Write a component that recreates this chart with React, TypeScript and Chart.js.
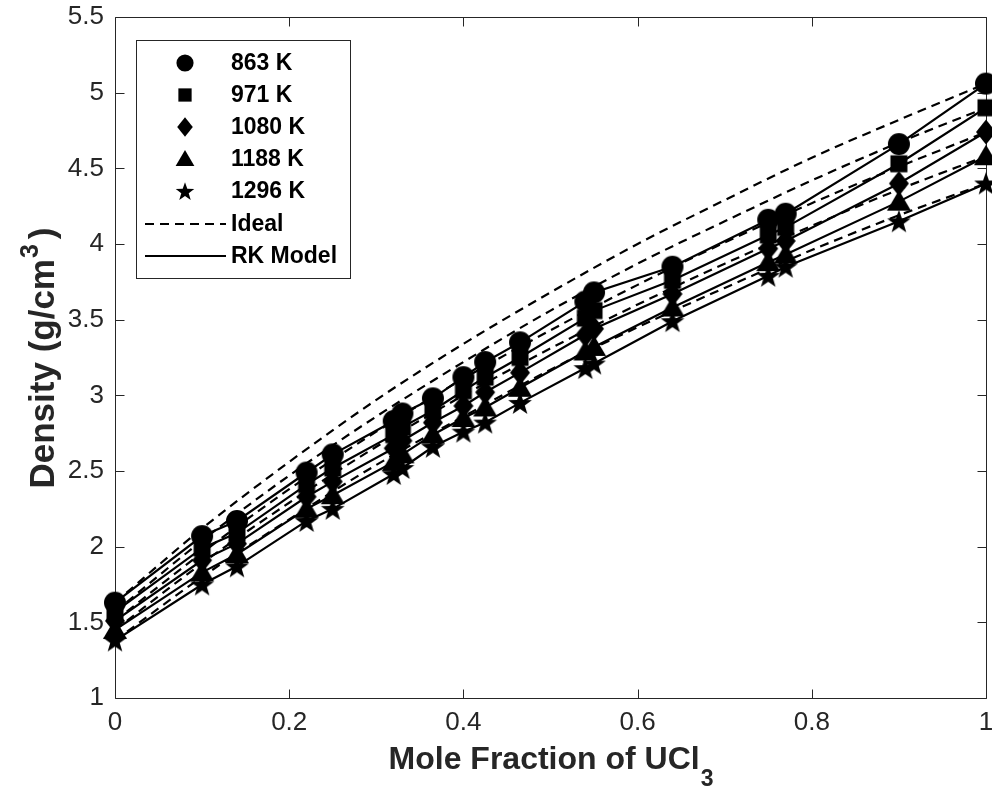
import React, { useEffect, useRef } from 'react';
import { Chart, registerables } from 'chart.js';

Chart.register(...registerables);

// ---------- data ----------
const moleFraction = [0, 0.1, 0.14, 0.22, 0.25, 0.32, 0.33, 0.365, 0.4, 0.425, 0.465, 0.54, 0.55, 0.64, 0.75, 0.77, 0.9, 1.0];

const density863 = [1.63, 2.07, 2.17, 2.49, 2.61, 2.83, 2.88, 2.98, 3.12, 3.22, 3.35, 3.62, 3.68, 3.85, 4.16, 4.2, 4.66, 5.06];
const density971 = [1.57, 1.99, 2.09, 2.41, 2.52, 2.74, 2.79, 2.9, 3.03, 3.12, 3.25, 3.51, 3.56, 3.76, 4.06, 4.11, 4.53, 4.9];
const density1080 = [1.51, 1.91, 2.02, 2.33, 2.43, 2.65, 2.7, 2.82, 2.93, 3.02, 3.15, 3.4, 3.44, 3.67, 3.97, 4.02, 4.4, 4.74];
const density1188 = [1.45, 1.83, 1.95, 2.25, 2.34, 2.56, 2.61, 2.74, 2.85, 2.92, 3.05, 3.29, 3.32, 3.58, 3.88, 3.93, 4.28, 4.58];
const density1296 = [1.38, 1.75, 1.87, 2.17, 2.25, 2.48, 2.52, 2.66, 2.76, 2.82, 2.95, 3.18, 3.21, 3.49, 3.79, 3.85, 4.15, 4.4];

const idealX = [0, 0.1, 0.2, 0.3, 0.4, 0.5, 0.6, 0.7, 0.8, 0.9, 1.0];
const ideal863 = [1.63, 2.12, 2.56, 2.97, 3.34, 3.68, 4.0, 4.29, 4.57, 4.82, 5.06];
const ideal971 = [1.57, 2.04, 2.47, 2.86, 3.22, 3.56, 3.87, 4.15, 4.42, 4.67, 4.9];
const ideal1080 = [1.51, 1.96, 2.38, 2.76, 3.11, 3.43, 3.73, 4.01, 4.27, 4.51, 4.74];
const ideal1188 = [1.45, 1.89, 2.29, 2.66, 3.0, 3.31, 3.6, 3.87, 4.12, 4.36, 4.58];
const ideal1296 = [1.38, 1.8, 2.18, 2.54, 2.86, 3.17, 3.45, 3.71, 3.96, 4.19, 4.4];

const seriesLabels = ['863 K', '971 K', '1080 K', '1188 K', '1296 K'];
const seriesShapes = ['circle', 'square', 'diamond', 'triangle', 'star'];
const idealLabel = 'Ideal';
const modelLabel = 'RK Model';

const xTickValues = [0, 0.2, 0.4, 0.6, 0.8, 1];
const xTickLabels = ['0', '0.2', '0.4', '0.6', '0.8', '1'];
const yTickValues = [1, 1.5, 2, 2.5, 3, 3.5, 4, 4.5, 5, 5.5];
const yTickLabels = ['1', '1.5', '2', '2.5', '3', '3.5', '4', '4.5', '5', '5.5'];

const xTitleMain = 'Mole Fraction of UCl';
const xTitleSub = '3';
const yTitleMain = 'Density (g/cm';
const yTitleSup = '3';
const yTitleEnd = ')';

// ---------- styling ----------
const FONT = '"Liberation Sans", Arial, Helvetica, sans-serif';
const AXIS_COLOR = '#262626';

function makeMarker(shape: string, s: number): HTMLCanvasElement {
  const size = 30;
  const c = document.createElement('canvas');
  c.width = size;
  c.height = size;
  const ctx = c.getContext('2d')!;
  const cx = size / 2;
  const cy = size / 2;
  ctx.fillStyle = '#000';
  ctx.beginPath();
  if (shape === 'circle') {
    ctx.arc(cx, cy, 11 * s, 0, Math.PI * 2);
  } else if (shape === 'square') {
    ctx.rect(cx - 8.5 * s, cy - 8.5 * s, 17 * s, 17 * s);
  } else if (shape === 'diamond') {
    ctx.moveTo(cx, cy - 12.5 * s);
    ctx.lineTo(cx + 10 * s, cy);
    ctx.lineTo(cx, cy + 12.5 * s);
    ctx.lineTo(cx - 10 * s, cy);
    ctx.closePath();
  } else if (shape === 'triangle') {
    ctx.moveTo(cx, cy - 11.5 * s);
    ctx.lineTo(cx + 12 * s, cy + 9 * s);
    ctx.lineTo(cx - 12 * s, cy + 9 * s);
    ctx.closePath();
  } else {
    for (let i = 0; i < 10; i++) {
      const r = (i % 2 === 0 ? 12.5 : 5) * s;
      const a = -Math.PI / 2 + (i * Math.PI) / 5;
      const px = cx + r * Math.cos(a);
      const py = cy + 1 + r * Math.sin(a);
      if (i === 0) ctx.moveTo(px, py);
      else ctx.lineTo(px, py);
    }
    ctx.closePath();
  }
  ctx.fill();
  return c;
}

const zeroPadding = () => ({ left: 0, right: 0, top: 0, bottom: 0 });

const boxPlugin = {
  id: 'boxPlugin',
  beforeDatasetsDraw(chart: any) {
    const { ctx, chartArea } = chart;
    const xs = chart.scales.x;
    const ys = chart.scales.y;
    const l = Math.round(chartArea.left) + 0.5;
    const r = Math.round(chartArea.right) + 0.5;
    const t = Math.round(chartArea.top) + 0.5;
    const b = Math.round(chartArea.bottom) + 0.5;
    ctx.save();
    ctx.strokeStyle = AXIS_COLOR;
    ctx.lineWidth = 1;
    ctx.beginPath();
    ctx.rect(l, t, r - l, b - t);
    const tl = 9;
    xTickValues.forEach((v) => {
      const px = Math.round(xs.getPixelForValue(v)) + 0.5;
      ctx.moveTo(px, b);
      ctx.lineTo(px, b - tl);
      ctx.moveTo(px, t);
      ctx.lineTo(px, t + tl);
    });
    yTickValues.forEach((v) => {
      const py = Math.round(ys.getPixelForValue(v)) + 0.5;
      ctx.moveTo(l, py);
      ctx.lineTo(l + tl, py);
      ctx.moveTo(r, py);
      ctx.lineTo(r - tl, py);
    });
    ctx.stroke();
    ctx.restore();
  },
};

const titlesPlugin = {
  id: 'titlesPlugin',
  afterDraw(chart: any) {
    const { ctx, chartArea } = chart;
    ctx.save();
    ctx.fillStyle = AXIS_COLOR;
    ctx.textBaseline = 'alphabetic';
    ctx.textAlign = 'left';
    const big = `bold 32px ${FONT}`;
    const small = `bold 23px ${FONT}`;
    // x title
    ctx.font = big;
    const w1 = ctx.measureText(xTitleMain).width;
    ctx.font = small;
    const w2 = ctx.measureText(xTitleSub).width;
    const cx = (chartArea.left + chartArea.right) / 2;
    const x0 = cx - (w1 + w2) / 2;
    ctx.font = big;
    ctx.fillText(xTitleMain, x0, 769);
    ctx.font = small;
    ctx.fillText(xTitleSub, x0 + w1 + 1, 786);
    // y title (rotated)
    const ybig = `bold 35px ${FONT}`;
    const ysmall = `bold 25px ${FONT}`;
    ctx.font = ybig;
    const a1 = ctx.measureText(yTitleMain).width;
    ctx.font = ysmall;
    const a2 = ctx.measureText(yTitleSup).width;
    ctx.font = ybig;
    const a3 = ctx.measureText(yTitleEnd).width;
    const total = a1 + a2 + 6 + a3;
    ctx.translate(54, 358);
    ctx.rotate(-Math.PI / 2);
    const s0 = -total / 2;
    ctx.font = ybig;
    ctx.fillText(yTitleMain, s0, 0);
    ctx.font = ysmall;
    ctx.fillText(yTitleSup, s0 + a1 + 1, -16);
    ctx.font = ybig;
    ctx.fillText(yTitleEnd, s0 + a1 + a2 + 6, 0);
    ctx.restore();
  },
};

const legendMarkers = seriesShapes.map((s) => makeMarker(s, 0.78));

const legendPlugin = {
  id: 'customLegend',
  afterDraw(chart: any) {
    const { ctx } = chart;
    const bx = 136.5;
    const by = 40.5;
    const bw = 214;
    const bh = 238;
    ctx.save();
    ctx.fillStyle = '#ffffff';
    ctx.fillRect(bx, by, bw, bh);
    ctx.strokeStyle = AXIS_COLOR;
    ctx.lineWidth = 1;
    ctx.strokeRect(bx, by, bw, bh);
    ctx.font = `bold 23px ${FONT}`;
    ctx.fillStyle = '#000';
    ctx.textBaseline = 'middle';
    ctx.textAlign = 'left';
    const rowY = [63, 95, 127, 159, 191, 224, 256];
    const textX = 231;
    seriesLabels.forEach((lab, i) => {
      const m = legendMarkers[i];
      ctx.drawImage(m, 185 - m.width / 2, rowY[i] - m.height / 2);
      ctx.fillText(lab, textX, rowY[i] + 1);
    });
    ctx.strokeStyle = '#000';
    ctx.lineWidth = 2;
    ctx.beginPath();
    ctx.setLineDash([9, 6]);
    ctx.moveTo(145, rowY[5]);
    ctx.lineTo(226, rowY[5]);
    ctx.stroke();
    ctx.setLineDash([]);
    ctx.beginPath();
    ctx.moveTo(145, rowY[6]);
    ctx.lineTo(226, rowY[6]);
    ctx.stroke();
    ctx.fillText(idealLabel, textX, rowY[5] + 1);
    ctx.fillText(modelLabel, textX, rowY[6] + 1);
    ctx.restore();
  },
};

export default function App() {
  const canvasRef = useRef<HTMLCanvasElement | null>(null);

  useEffect(() => {
    const canvas = canvasRef.current;
    if (!canvas) return;
    const densitySeries = [density863, density971, density1080, density1188, density1296];
    const idealSeries = [ideal863, ideal971, ideal1080, ideal1188, ideal1296];
    const plotMarkers = seriesShapes.map((s) => makeMarker(s, 1));

    const markerSets = densitySeries.map((vals, i) => ({
      type: 'line' as const,
      label: seriesLabels[i],
      data: moleFraction.map((x, j) => ({ x, y: vals[j] })),
      showLine: false,
      clip: false as const,
      pointStyle: plotMarkers[i],
      pointRadius: 11,
      backgroundColor: '#000',
      borderColor: '#000',
    }));
    const modelSets = densitySeries.map((vals, i) => ({
      type: 'line' as const,
      label: `${modelLabel} ${seriesLabels[i]}`,
      data: moleFraction.map((x, j) => ({ x, y: vals[j] })),
      borderColor: '#000',
      borderWidth: 2.2,
      pointRadius: 0,
      tension: 0,
      fill: false,
    }));
    const idealSets = idealSeries.map((vals, i) => ({
      type: 'line' as const,
      label: `${idealLabel} ${seriesLabels[i]}`,
      data: idealX.map((x, j) => ({ x, y: vals[j] })),
      borderColor: '#000',
      borderWidth: 2.2,
      borderDash: [9, 6],
      pointRadius: 0,
      cubicInterpolationMode: 'monotone' as const,
      fill: false,
    }));

    const chart = new Chart(canvas, {
      type: 'line',
      data: { datasets: [...markerSets, ...modelSets, ...idealSets] as any },
      options: {
        responsive: false,
        animation: false,
        devicePixelRatio: 1,
        layout: { autoPadding: false, padding: { top: 17, right: 6, left: 0, bottom: 0 } },
        plugins: { legend: { display: false }, tooltip: { enabled: false } },
        scales: {
          x: {
            type: 'linear',
            min: 0,
            max: 1,
            grid: { display: false, drawTicks: false },
            border: { display: false },
            afterBuildTicks: (scale: any) => {
              scale.ticks = xTickValues.map((v) => ({ value: v }));
            },
            afterFit: (scale: any) => {
              scale.height = 92;
              scale.paddingLeft = 0;
              scale.paddingRight = 0;
              scale.getPadding = zeroPadding;
            },
            ticks: {
              padding: 9,
              color: AXIS_COLOR,
              font: { family: FONT, size: 26 },
              maxRotation: 0,
              autoSkip: false,
              callback: (_v: any, i: number) => xTickLabels[i],
            },
          },
          y: {
            type: 'linear',
            min: 1,
            max: 5.5,
            grid: { display: false, drawTicks: false },
            border: { display: false },
            afterBuildTicks: (scale: any) => {
              scale.ticks = yTickValues.map((v) => ({ value: v }));
            },
            afterFit: (scale: any) => {
              scale.width = 115;
              scale.paddingTop = 0;
              scale.paddingBottom = 0;
              scale.getPadding = zeroPadding;
            },
            ticks: {
              padding: 11,
              color: AXIS_COLOR,
              font: { family: FONT, size: 26 },
              autoSkip: false,
              callback: (_v: any, i: number) => yTickLabels[i],
            },
          },
        },
      },
      plugins: [boxPlugin, titlesPlugin, legendPlugin],
    });
    return () => chart.destroy();
  }, []);

  return (
    <div style={{ position: 'absolute', left: 0, top: 0, width: 992, height: 790, background: '#fff' }}>
      <canvas ref={canvasRef} width={992} height={790} style={{ width: 992, height: 790 }} />
    </div>
  );
}
